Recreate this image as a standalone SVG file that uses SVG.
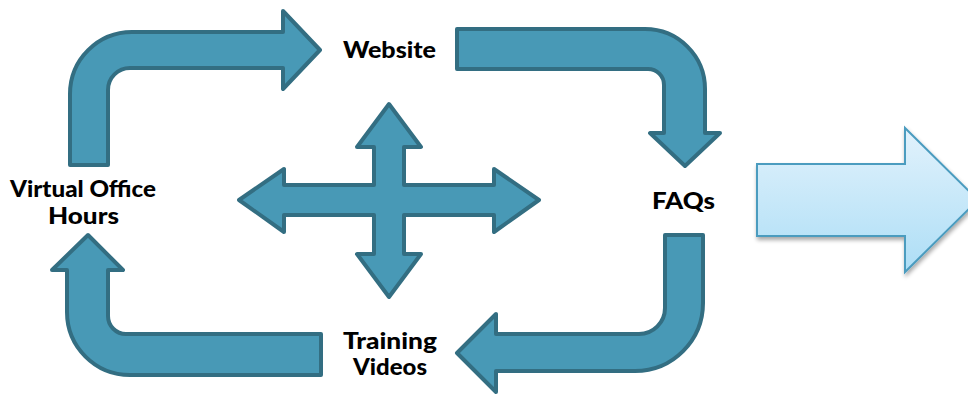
<svg xmlns="http://www.w3.org/2000/svg" width="968" height="394" viewBox="0 0 968 394">
  <defs>
    <linearGradient id="lb" x1="0" y1="0" x2="0" y2="1">
      <stop offset="0" stop-color="#e2f2fc"/>
      <stop offset="1" stop-color="#addef6"/>
    </linearGradient>
    <filter id="sh" x="-10%" y="-10%" width="130%" height="130%">
      <feGaussianBlur in="SourceAlpha" stdDeviation="2"/>
      <feOffset dx="1" dy="3" result="b"/>
      <feComponentTransfer><feFuncA type="linear" slope="0.35"/></feComponentTransfer>
      <feMerge><feMergeNode/><feMergeNode in="SourceGraphic"/></feMerge>
    </filter>
  </defs>
  <style>
    .ar { fill: #4899b6; stroke: #336e82; stroke-width: 4; stroke-linejoin: round; }
    .big { fill: url(#lb); stroke: #4b9cbf; stroke-width: 2; }
    .lbl { font-family: Lato, "Open Sans", "Liberation Sans", sans-serif; font-weight: 900; font-size: 23px; fill: #000; text-anchor: middle; }
  </style>
  <g id="connectors">
    <path id="arrow-vo-web" class="ar" d="M70,165 L70,94 A62,62 0 0 1 132,32 L283,32 L283,11 L320,50 L283,89 L283,68 L130,68 A22,22 0 0 0 108,90 L108,165 Z"/>
    <path id="arrow-web-faq" class="ar" d="M457,29 L645,29 A60,60 0 0 1 705,89 L705,133 L720,133 L685,166 L650,133 L664,133 L664,85 A16,16 0 0 0 648,69 L457,69 Z"/>
    <path id="arrow-faq-tv" class="ar" d="M665,235 L703,235 L703,303 A68,68 0 0 1 635,371 L496,371 L496,392 L457,353 L496,314 L496,334 L639,334 A26,26 0 0 0 665,308 Z"/>
    <path id="arrow-tv-vo" class="ar" d="M321,334 L321,375 L130,375 A63,63 0 0 1 67,312 L67,270 L52,270 L88,235 L123,270 L108,270 L108,316 A18,18 0 0 0 126,334 Z"/>
    <path id="cross" class="ar" d="M389,104 L421,147 L404,147 L404,185 L494,185 L494,169 L539,200 L494,232 L494,215 L404,215 L404,254 L421,254 L389,297 L357,254 L374,254 L374,215 L284,215 L284,232 L239,200 L284,169 L284,185 L374,185 L374,147 L357,147 Z"/>
    <path id="big-arrow" class="big" filter="url(#sh)" d="M757,164 L905,164 L905,128 L978,200 L905,272 L905,236 L757,236 Z"/>
  </g>
  <g id="website"><text class="lbl" x="389.5" y="58" textLength="93" lengthAdjust="spacingAndGlyphs">Website</text></g>
  <g id="faqs"><text class="lbl" x="683.5" y="209" textLength="63" lengthAdjust="spacingAndGlyphs">FAQs</text></g>
  <g id="training-videos">
    <text class="lbl" x="390" y="349" textLength="94" lengthAdjust="spacingAndGlyphs">Training</text>
    <text class="lbl" x="390" y="375" textLength="74" lengthAdjust="spacingAndGlyphs">Videos</text>
  </g>
  <g id="virtual-office-hours">
    <text class="lbl" x="83" y="197" textLength="146" lengthAdjust="spacingAndGlyphs">Virtual Office</text>
    <text class="lbl" x="83.5" y="224" textLength="71" lengthAdjust="spacingAndGlyphs">Hours</text>
  </g>
</svg>
